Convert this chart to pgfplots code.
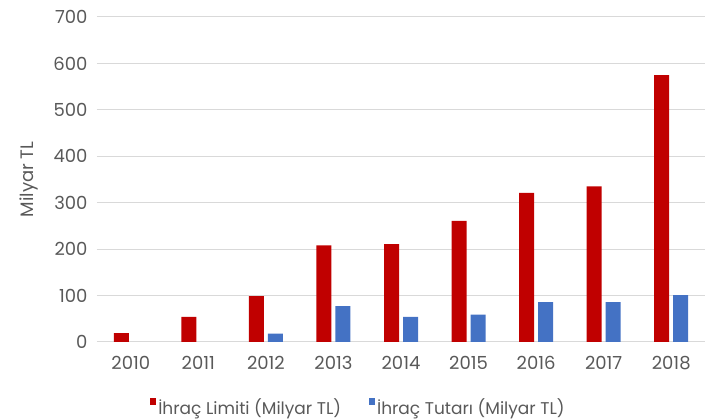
\documentclass[border=0pt]{standalone}
\usepackage{pgfplots}
\pgfplotsset{compat=1.18}
\usepackage{fontspec}
\setmainfont{Poppins}
\definecolor{limred}{HTML}{C00000}
\definecolor{tutblue}{HTML}{4472C4}
\definecolor{txtgray}{HTML}{595959}
\definecolor{gridgray}{HTML}{D9D9D9}
\begin{document}
\begin{tikzpicture}[x=1pt,y=1pt]
\useasboundingbox (0,0) rectangle (713,420);
\begin{axis}[
    at={(97pt,78pt)}, anchor=south west,
    scale only axis,
    width=608pt, height=325pt,
    ybar=4pt, bar width=15pt,
    xmin=-0.5, xmax=8.5,
    ymin=0, ymax=700,
    ytick={0,100,...,700},
    xtick={0,...,8},
    xticklabels={2010,2011,2012,2013,2014,2015,2016,2017,2018},
    axis line style={draw=none},
    tick style={draw=none},
    ymajorgrids,
    grid style={gridgray, line width=1pt},
    /pgf/number format/assume math mode=true,
    ticklabel style={font=\fontsize{18}{20}\selectfont, text=txtgray},
    yticklabel style={xshift=-6pt},
    xticklabel style={yshift=-6pt},
    ylabel={Milyar TL},
    every axis y label/.style={at={(axis description cs:-0.112,0.5)}, rotate=90,
        anchor=center, font=\fontsize{18}{20}\selectfont, text=txtgray},
    legend style={draw=none, fill=none, font=\fontsize{17}{19}\selectfont, text=txtgray,
        at={(axis description cs:0.43,-0.2)}, anchor=center,
        /tikz/every even column/.append style={column sep=26pt}},
    legend columns=2,
    legend image code/.code={\fill[#1] (3pt,2pt) rectangle (9pt,9pt);},
]
\addplot[fill=limred, draw=none] coordinates {
    (0,19) (1,54) (2,99) (3,208) (4,211) (5,261) (6,321) (7,335) (8,575)
};
\addplot[fill=tutblue, draw=none] coordinates {
    (2,18) (3,77) (4,54) (5,59) (6,86) (7,86) (8,101)
};
\legend{İhraç Limiti (Milyar TL), İhraç Tutarı (Milyar TL)}
\end{axis}
\end{tikzpicture}
\end{document}
